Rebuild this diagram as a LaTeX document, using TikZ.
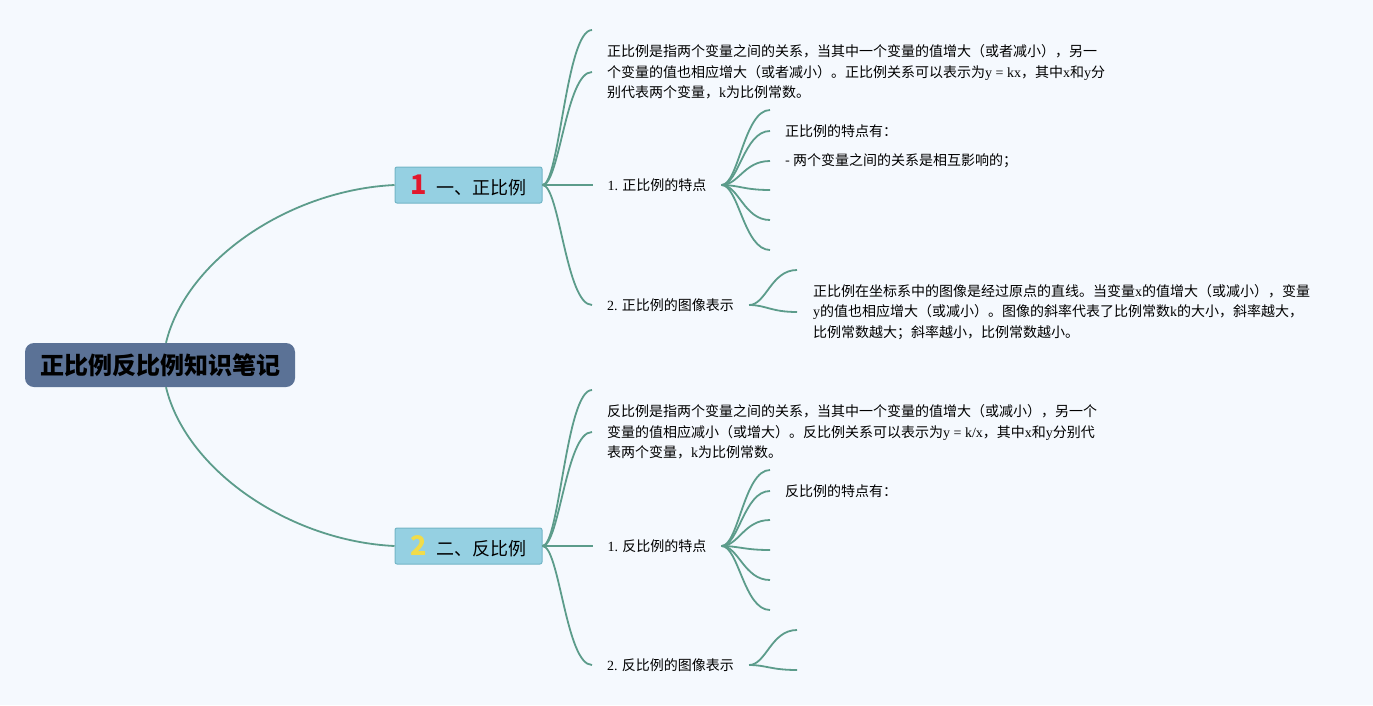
\documentclass[tikz,border=0pt]{standalone}
\usepackage{fontspec}
\setmainfont{Liberation Serif}
\newfontfamily\cjk{Noto Sans CJK SC}
\usetikzlibrary{positioning}
\usepackage{xcolor}
\definecolor{paper}{HTML}{F5F9FE}
\definecolor{rootblue}{HTML}{5B7296}
\definecolor{topicfill}{HTML}{95D0E2}
\definecolor{topicline}{HTML}{73B5C6}
\definecolor{branch}{HTML}{5C9C8B}
\definecolor{numred}{HTML}{E2182D}
\definecolor{numyellow}{HTML}{F1DC4A}
\newcommand\latn[1]{{\rmfamily #1}}
\newcommand\topicnum[2]{{\fontsize{27}{27}\selectfont\bfseries\color{#1}#2}}

\begin{document}
\begin{tikzpicture}[x=1pt, y=-1pt,
    root/.style={rectangle, rounded corners=9pt, fill=rootblue, minimum width=270pt, minimum height=44pt, inner sep=0pt, font=\cjk\fontsize{24}{24}\selectfont\bfseries},
    topic/.style={rectangle, rounded corners=2pt, draw=topicline, line width=1pt, fill=topicfill, minimum width=147pt, minimum height=36pt, inner sep=0pt, font=\cjk\fontsize{18}{18}\selectfont},
    leaf/.style={anchor=west, inner xsep=15pt, inner ysep=1pt, align=left, font=\cjk\fontsize{14}{20.5}\selectfont},
    link/.style={draw=branch, line width=1.8pt},
    fan/.style={to path={.. controls +(17,0) and +(-26,0) .. (\tikztotarget)}}]
    \fill[paper] (0,0) rectangle (1373,705);

    \node[root] (root) at (160,365) {正比例反比例知识笔记};
    \node[topic] (b1) at (468.5,185) {\topicnum{numred}{1}\hspace{9pt}一、正比例};
    \node[topic, below=324pt of b1] (b2) {\topicnum{numyellow}{2}\hspace{9pt}二、反比例};

    % first topic
    \coordinate (e1) at (592,30);
    \node[leaf] (t1) at (592,72) {正比例是指两个变量之间的关系，当其中一个变量的值增大（或者减小），另一\\
        个变量的值也相应增大（或者减小）。正比例关系可以表示为\latn{y = kx}，其中\latn{x}和\latn{y}分\\
        别代表两个变量，\latn{k}为比例常数。};
    \node[leaf, right=50pt of b1] (k1) {\latn{1.} 正比例的特点};
    \node[leaf] (g1) at (592,305) {\latn{2.} 正比例的图像表示};
    \coordinate (f1) at (770,110);
    \node[leaf] (s1) at (770,131) {正比例的特点有：};
    \node[leaf] (s2) at (770,161) {- 两个变量之间的关系是相互影响的；};
    \coordinate (f2) at (770,190);
    \coordinate (f3) at (770,220);
    \coordinate (f4) at (770,250);
    \coordinate (h1) at (797,270);
    \node[leaf, inner xsep=16pt] (p1) at (797,312) {正比例在坐标系中的图像是经过原点的直线。当变量\latn{x}的值增大（或减小），变量\\
        \latn{y}的值也相应增大（或减小）。图像的斜率代表了比例常数\latn{k}的大小，斜率越大，\\
        比例常数越大；斜率越小，比例常数越小。};

    % second topic
    \coordinate (e2) at (592,390);
    \node[leaf] (t2) at (592,432) {反比例是指两个变量之间的关系，当其中一个变量的值增大（或减小），另一个\\
        变量的值相应减小（或增大）。反比例关系可以表示为\latn{y = k/x}，其中\latn{x}和\latn{y}分别代\\
        表两个变量，\latn{k}为比例常数。};
    \node[leaf, right=50pt of b2] (k2) {\latn{1.} 反比例的特点};
    \node[leaf] (g2) at (592,665) {\latn{2.} 反比例的图像表示};
    \coordinate (f5) at (770,470);
    \node[leaf] (s3) at (770,491) {反比例的特点有：};
    \coordinate (f6) at (770,520);
    \coordinate (f7) at (770,550);
    \coordinate (f8) at (770,580);
    \coordinate (f9) at (770,610);
    \coordinate (h2) at (797,630);
    \coordinate (h3) at (797,670);

    % connectors
    \draw[link] ([xshift=6pt]root.north) .. controls +(20,-83) and +(-105,5) .. (b1.west);
    \draw[link] ([xshift=6pt]root.south) .. controls +(20,83) and +(-105,-5) .. (b2.west);
    \draw[link] (b1.east) to[fan] (e1);
    \draw[link] (b1.east) to[fan] (t1.west);
    \draw[link] (b1.east) -- (k1.west);
    \draw[link] (b1.east) to[fan] (g1.west);
    \draw[link] (k1.east) to[fan] (f1);
    \draw[link] (k1.east) to[fan] (s1.west);
    \draw[link] (k1.east) to[fan] (s2.west);
    \draw[link] (k1.east) to[fan] (f2);
    \draw[link] (k1.east) to[fan] (f3);
    \draw[link] (k1.east) to[fan] (f4);
    \draw[link] (g1.east) to[fan] (h1);
    \draw[link] (g1.east) to[fan] (p1.west);
    \draw[link] (b2.east) to[fan] (e2);
    \draw[link] (b2.east) to[fan] (t2.west);
    \draw[link] (b2.east) -- (k2.west);
    \draw[link] (b2.east) to[fan] (g2.west);
    \draw[link] (k2.east) to[fan] (f5);
    \draw[link] (k2.east) to[fan] (s3.west);
    \draw[link] (k2.east) to[fan] (f6);
    \draw[link] (k2.east) to[fan] (f7);
    \draw[link] (k2.east) to[fan] (f8);
    \draw[link] (k2.east) to[fan] (f9);
    \draw[link] (g2.east) to[fan] (h2);
    \draw[link] (g2.east) to[fan] (h3);
\end{tikzpicture}
\end{document}
